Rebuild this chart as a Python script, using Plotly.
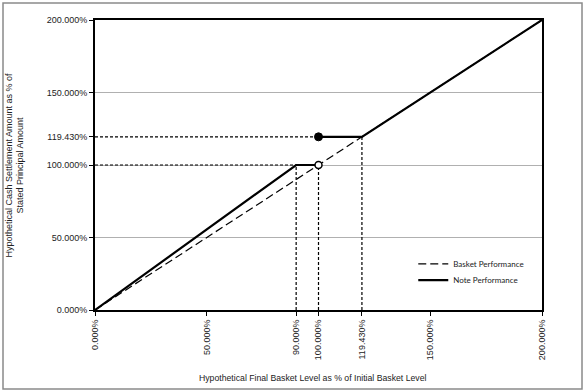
import plotly.graph_objects as go

# ---- data ----
basket_x = [0, 200]
basket_y = [0, 200]
note_x = [0, 90, 100, None, 100, 119.43, 200]
note_y = [0, 100, 100, None, 119.43, 119.43, 200]
open_pt_x = [100]
open_pt_y = [100]
filled_pt_x = [100]
filled_pt_y = [119.43]
# dashed guide lines (horizontal / vertical)
guide_h_x = [0, 90, None, 0, 100]
guide_h_y = [100, 100, None, 119.43, 119.43]
guide_v_x = [90, 90, None, 100, 100, None, 119.43, 119.43]
guide_v_y = [0, 100, None, 0, 100, None, 0, 119.43]

x_tickvals = [0, 50, 90, 100, 119.43, 150, 200]
x_ticktext = ["0.000%", "50.000%", "90.000%", "100.000%", "119.430%", "150.000%", "200.000%"]
y_tickvals = [0, 50, 100, 119.43, 150, 200]
y_ticktext = ["0.000%", "50.000%", "100.000%", "119.430%", "150.000%", "200.000%"]
grid_vals = [50, 100, 150]

x_title = "Hypothetical Final Basket Level as % of Initial Basket Level"
y_title = "Hypothetical Cash Settlement Amount as % of<br>Stated Principal Amount"

FONT = "Liberation Sans, Arial, sans-serif"

fig = go.Figure()

# gridline helper axis trace (invisible)
fig.add_trace(go.Scatter(x=[None], y=[None], yaxis="y2", showlegend=False, hoverinfo="skip"))

fig.add_trace(go.Scatter(x=guide_h_x, y=guide_h_y, mode="lines",
                         line=dict(color="black", width=1.2, dash="3px,2px"),
                         showlegend=False, hoverinfo="skip"))
fig.add_trace(go.Scatter(x=guide_v_x, y=guide_v_y, mode="lines",
                         line=dict(color="black", width=1.2, dash="3px,2px"),
                         showlegend=False, hoverinfo="skip"))

fig.add_trace(go.Scatter(x=basket_x, y=basket_y, mode="lines", name="Basket Performance",
                         line=dict(color="black", width=1.2, dash="8px,4px"), legend="legend"))
fig.add_trace(go.Scatter(x=note_x, y=note_y, mode="lines", name="Note Performance",
                         line=dict(color="black", width=2.2), legend="legend2"))

fig.add_trace(go.Scatter(x=open_pt_x, y=open_pt_y, mode="markers", showlegend=False,
                         marker=dict(size=7, color="white", line=dict(color="black", width=1.5))))
fig.add_trace(go.Scatter(x=filled_pt_x, y=filled_pt_y, mode="markers", showlegend=False,
                         marker=dict(size=8, color="black", line=dict(color="black", width=1))))

leg_font = dict(family="Lato, sans-serif", size=8, color="#222")
fig.update_layout(
    width=585, height=392,
    margin=dict(l=95, r=43, t=20, b=82),
    paper_bgcolor="white", plot_bgcolor="white",
    font=dict(family=FONT, size=9, color="#222"),
    xaxis=dict(range=[0, 200], tickvals=x_tickvals, ticktext=x_ticktext, tickangle=-90,
               showgrid=False, zeroline=False, showline=True, linecolor="black", linewidth=2,
               mirror=True, ticks="outside", ticklen=4, tickcolor="black",
               tickfont=dict(family=FONT, size=9, color="#222")),
    yaxis=dict(range=[0, 200], tickvals=y_tickvals, ticktext=y_ticktext,
               showgrid=False, zeroline=False, showline=True, linecolor="black", linewidth=2,
               mirror=True, ticks="outside", ticklen=4, tickcolor="black",
               tickfont=dict(family=FONT, size=9, color="#222")),
    yaxis2=dict(range=[0, 200], overlaying="y", tickvals=grid_vals, showticklabels=False,
                showgrid=True, gridcolor="#b0b0b0", gridwidth=1, zeroline=False, ticks=""),
    legend=dict(x=0.712, y=0.159, xanchor="left", yanchor="middle", bgcolor="rgba(0,0,0,0)",
                font=leg_font, itemwidth=30),
    legend2=dict(x=0.712, y=0.103, xanchor="left", yanchor="middle", bgcolor="rgba(0,0,0,0)",
                 font=leg_font, itemwidth=30),
    showlegend=True,
)

fig.add_annotation(text=x_title, xref="paper", yref="paper", x=0.488, y=-0.2345,
                   showarrow=False, xanchor="center", yanchor="middle",
                   font=dict(family=FONT, size=8.7, color="#222"))
fig.add_annotation(text=y_title, xref="paper", yref="paper", x=-0.18, y=0.5,
                   showarrow=False, xanchor="center", yanchor="middle", textangle=-90,
                   font=dict(family=FONT, size=9, color="#222"))

# outer frame of the picture
fig.add_shape(type="rect", xref="paper", yref="paper",
              x0=-0.2058, x1=1.0895, y0=-0.2724, y1=1.0586,
              line=dict(color="#8a8a8a", width=1.5), layer="below")

fig.write_html("out.html", config={"displayModeBar": False},
               post_script="document.body.style.margin='0px';")
